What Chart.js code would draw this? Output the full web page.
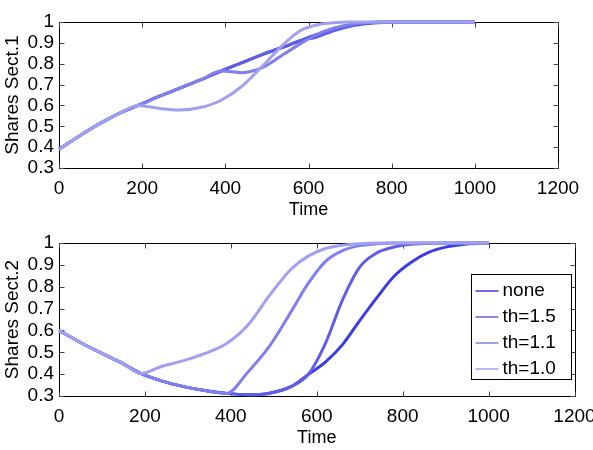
<!DOCTYPE html>
<html>
<head>
<meta charset="utf-8">
<script src="https://cdn.jsdelivr.net/npm/chart.js@4.4.0/dist/chart.umd.min.js"></script>
<style>
  body { margin: 0; background: #fff; }
  canvas { position: absolute; left: 0; }
  #sect1 { top: 0; }
  #sect2 { top: 225px; }
</style>
</head>
<body>
<canvas id="sect1" width="593" height="225"></canvas>
<canvas id="sect2" width="593" height="225"></canvas>
<script>
// time grid shared by every series
var times = [0, 50, 100, 150, 190, 240, 290, 340, 390, 440, 490, 540, 580, 620, 660, 700, 740, 780, 820, 860, 900, 950, 1000];
var labels = ['none', 'th=1.5', 'th=1.1', 'th=1.0'];
var colors = ['#3c3ce4', '#5f5fe6', '#8080ec', '#a0a0f2'];

// Shares Sect.1
var s1_none = [0.39, 0.455, 0.515, 0.567, 0.60, 0.643, 0.682, 0.722, 0.765, 0.805, 0.845, 0.88, 0.91, 0.94, 0.968, 0.986, 0.996, 1.0, 1.0, 1.0, 1.0, 1.0, 1.0];
var s1_th15 = [0.39, 0.455, 0.515, 0.567, 0.60, 0.643, 0.682, 0.722, 0.765, 0.805, 0.845, 0.88, 0.91, 0.928, 0.958, 0.98, 0.992, 0.998, 1.0, 1.0, 1.0, 1.0, 1.0];
var s1_th11 = [0.39, 0.455, 0.515, 0.567, 0.60, 0.643, 0.682, 0.722, 0.765, 0.757, 0.782, 0.845, 0.895, 0.94, 0.97, 0.988, 0.997, 1.0, 1.0, 1.0, 1.0, 1.0, 1.0];
var s1_th10 = [0.39, 0.455, 0.515, 0.567, 0.60, 0.586, 0.578, 0.59, 0.625, 0.692, 0.79, 0.893, 0.958, 0.986, 0.996, 1.0, 1.0, 1.0, 1.0, 1.0, 1.0, 1.0, 1.0];

// Shares Sect.2
var s2_none = [0.60, 0.545, 0.495, 0.447, 0.403, 0.368, 0.343, 0.325, 0.312, 0.306, 0.313, 0.343, 0.398, 0.455, 0.535, 0.645, 0.75, 0.848, 0.912, 0.957, 0.981, 0.995, 1.0];
var s2_th15 = [0.60, 0.545, 0.495, 0.447, 0.403, 0.368, 0.343, 0.325, 0.312, 0.306, 0.313, 0.343, 0.398, 0.54, 0.74, 0.89, 0.955, 0.982, 0.994, 0.998, 1.0, 1.0, 1.0];
var s2_th11 = [0.60, 0.545, 0.495, 0.447, 0.403, 0.368, 0.343, 0.325, 0.312, 0.41, 0.528, 0.685, 0.815, 0.915, 0.965, 0.988, 0.996, 1.0, 1.0, 1.0, 1.0, 1.0, 1.0];
var s2_th10 = [0.60, 0.545, 0.495, 0.447, 0.403, 0.436, 0.462, 0.495, 0.54, 0.625, 0.76, 0.88, 0.94, 0.975, 0.99, 0.997, 1.0, 1.0, 1.0, 1.0, 1.0, 1.0, 1.0];

var xTicks = [0, 200, 400, 600, 800, 1000, 1200];
var yTicks = [0.3, 0.4, 0.5, 0.6, 0.7, 0.8, 0.9, 1];
var yTickLabels = ['0.3', '0.4', '0.5', '0.6', '0.7', '0.8', '0.9', '1'];

var FONT = "'Liberation Sans', Arial, sans-serif";

function points(vals) {
  return times.map(function (t, i) { return { x: t, y: vals[i] }; });
}

function makeSets(series) {
  return series.map(function (vals, i) {
    return {
      label: labels[i],
      data: points(vals),
      borderColor: colors[i],
      borderWidth: 3,
      pointRadius: 0,
      fill: false,
      cubicInterpolationMode: 'monotone',
      clip: false,
      order: series.length - 1 - i   // last series drawn on top
    };
  });
}

// box with inward tick marks, like the original axes
var framePlugin = {
  id: 'frame',
  beforeDatasetsDraw: function (chart) {
    var c = chart.ctx, a = chart.chartArea, xs = chart.scales.x, ys = chart.scales.y;
    var l = Math.round(a.left) + 0.5, r = Math.round(a.right) + 0.5;
    var t = Math.round(a.top) + 0.5, b = Math.round(a.bottom) + 0.5;
    c.save();
    c.strokeStyle = '#000';
    c.lineWidth = 1;
    c.strokeRect(l, t, r - l, b - t);
    c.strokeStyle = '#444';
    c.beginPath();
    xs.ticks.forEach(function (tk) {
      var p = Math.round(xs.getPixelForValue(tk.value)) + 0.5;
      c.moveTo(p, b); c.lineTo(p, b - 5);
      c.moveTo(p, t); c.lineTo(p, t + 5);
    });
    ys.ticks.forEach(function (tk) {
      var p = Math.round(ys.getPixelForValue(tk.value)) + 0.5;
      c.moveTo(l, p); c.lineTo(l + 5, p);
      c.moveTo(r, p); c.lineTo(r - 5, p);
    });
    c.stroke();
    c.restore();
  }
};

var boxLegend = {
  id: 'boxLegend',
  afterDatasetsDraw: function (chart, args, opts) {
    if (!opts.show) return;
    var c = chart.ctx, a = chart.chartArea;
    var x0 = Math.round(a.right - 103.5) + 0.5, y0 = Math.round(a.top + 31) + 0.5;
    var w = 100, h = 105;
    c.save();
    c.fillStyle = '#fff';
    c.fillRect(x0, y0, w, h);
    c.strokeStyle = '#000';
    c.lineWidth = 1;
    c.strokeRect(x0, y0, w, h);
    c.font = '19px ' + FONT;
    c.textBaseline = 'middle';
    c.textAlign = 'left';
    chart.data.datasets.forEach(function (ds, i) {
      var y = y0 + 16.5 + i * 26;
      c.strokeStyle = ds.borderColor;
      c.lineWidth = 1.5;
      c.beginPath();
      c.moveTo(x0 + 4, y); c.lineTo(x0 + 27, y);
      c.stroke();
      c.fillStyle = '#000';
      c.fillText(ds.label, x0 + 31, y);
    });
    c.restore();
  }
};

function makeChart(id, series, yTitle, pad, xAxisH, titlePad, withLegend) {
  return new Chart(document.getElementById(id).getContext('2d'), {
    type: 'line',
    data: { datasets: makeSets(series) },
    options: {
      responsive: false,
      animation: false,
      layout: { padding: pad },
      plugins: {
        legend: { display: false },
        tooltip: { enabled: false },
        boxLegend: { show: withLegend }
      },
      scales: {
        x: {
          type: 'linear',
          min: 0, max: 1200,
          afterBuildTicks: function (s) { s.ticks = xTicks.map(function (v) { return { value: v }; }); },
          afterFit: function (s) { s.height = xAxisH; s.paddingLeft = 0; s.paddingRight = 0; },
          grid: { display: false, drawTicks: false },
          border: { display: false },
          ticks: {
            autoSkip: false, maxRotation: 0, padding: 9,
            color: '#000', font: { family: FONT, size: 19 },
            callback: function (v) { return String(v); }
          },
          title: { display: true, text: 'Time', color: '#000', font: { family: FONT, size: 18 }, padding: { top: 0, bottom: titlePad } }
        },
        y: {
          min: 0.3, max: 1,
          afterBuildTicks: function (s) { s.ticks = yTicks.map(function (v) { return { value: v }; }); },
          afterFit: function (s) { s.width = 59; s.paddingTop = 0; s.paddingBottom = 0; },
          grid: { display: false, drawTicks: false },
          border: { display: false },
          ticks: {
            autoSkip: false, padding: 5,
            color: '#000', font: { family: FONT, size: 19 },
            callback: function (v, i) { return yTickLabels[i]; }
          },
          title: { display: true, text: yTitle, color: '#000', font: { family: FONT, size: 19 }, padding: { top: 1, bottom: 0 } }
        }
      }
    },
    plugins: [framePlugin, boxLegend]
  });
}

makeChart('sect1', [s1_none, s1_th15, s1_th11, s1_th10], 'Shares Sect.1',
  { top: 22, right: 35, bottom: 0, left: 0 }, 57, 4, false);
makeChart('sect2', [s2_none, s2_th15, s2_th11, s2_th10], 'Shares Sect.2',
  { top: 18, right: 18.5, bottom: 0, left: 0 }, 54, 1.5, true);
</script>
</body>
</html>
